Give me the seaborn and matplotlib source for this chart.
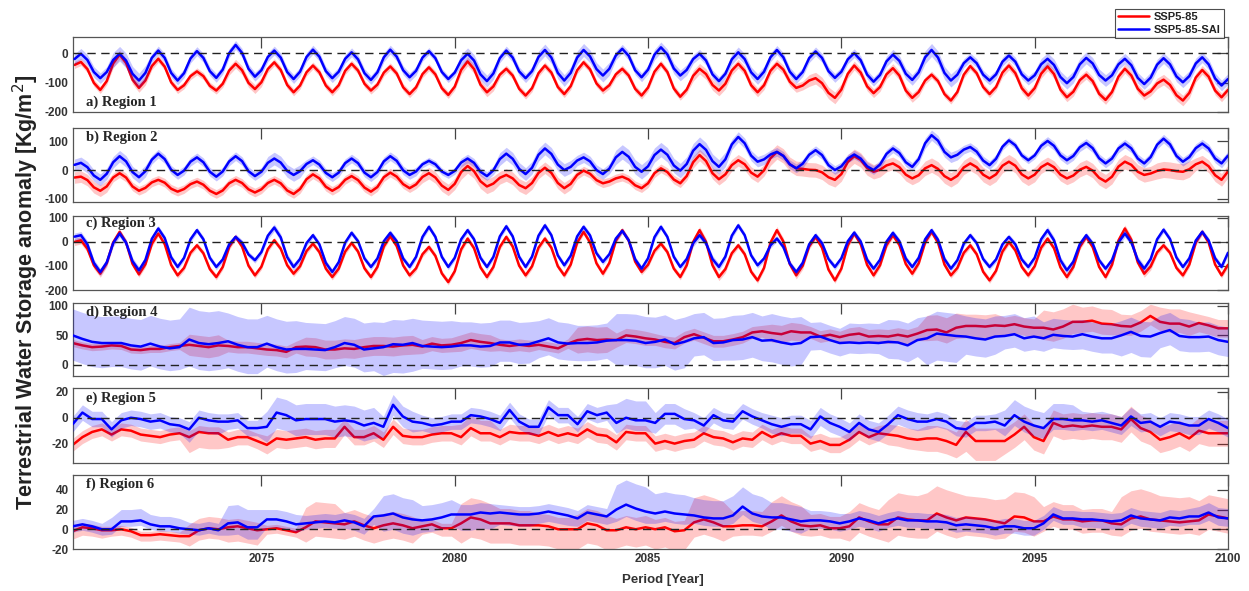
import numpy as np
import pandas as pd
import seaborn as sns
import matplotlib
matplotlib.use("Agg")
import matplotlib.pyplot as plt
from matplotlib.lines import Line2D

# ---- data ----
# regions 1-3: 6 samples per year (seasonal cycle), regions 4-6: 4 samples per year
# spreads (band half widths) are one value per year

r1_ssp = [-40, -30, -54, -101, -125, -95,  -35, -5, -33, -90, -118, -93,  -44, -19, -46, -99, -125, -109,
          -78, -62, -78, -111, -127, -104,  -59, -36, -58, -101, -122, -99,  -54, -31, -57, -108, -133, -110,
          -65, -42, -65, -110, -133, -109,  -60, -36, -59, -104, -127, -107,  -66, -45, -69, -116, -139, -116,
          -71, -48, -72, -119, -142, -114,  -57, -28, -54, -107, -133, -113,  -73, -53, -76, -121, -144, -119,
          -68, -42, -66, -115, -139, -112,  -58, -31, -55, -103, -127, -109,  -72, -53, -76, -121, -144, -117,
          -63, -36, -64, -120, -148, -124,  -77, -53, -71, -108, -127, -104,  -59, -36, -60, -109, -133, -109,
          -60, -36, -56, -97, -118, -110,  -93, -85, -102, -135, -152, -124,  -70, -42, -66, -113, -136, -115,
          -72, -51, -76, -127, -152, -132,  -93, -73, -95, -139, -161, -132,  -73, -44, -68, -115, -139, -115,
          -66, -42, -68, -119, -144, -119,  -70, -45, -71, -124, -150, -131,  -92, -73, -95, -138, -159, -132,
          -80, -53, -76, -121, -144, -130,  -103, -90, -108, -143, -161, -135,  -83, -57, -80, -127, -150, -125]
r1_sai = [-20, -2, -23, -64, -85, -64,  -23, -2, -25, -70, -93, -67,  -16, 9, -16, -67, -93, -68,
          -18, 7, -16, -61, -84, -56,  0, 28, 1, -53, -80, -58,  -13, 9, -15, -64, -88, -63,
          -13, 12, -12, -61, -85, -63,  -19, 3, -21, -68, -91, -65,  -14, 12, -12, -58, -82, -60,
          -15, 7, -17, -64, -88, -66,  -24, -2, -25, -72, -95, -69,  -17, 9, -15, -62, -85, -61,
          -13, 11, -15, -67, -93, -67,  -15, 11, -11, -54, -76, -53,  -8, 15, -9, -58, -82, -56,
          -5, 20, -4, -52, -76, -57,  -20, -2, -25, -72, -95, -70,  -21, 3, -20, -65, -88, -63,
          -14, 11, -14, -63, -88, -64,  -17, 6, -16, -61, -84, -63,  -21, 0, -24, -73, -97, -74,
          -28, -5, -26, -70, -91, -65,  -14, 11, -15, -67, -93, -73,  -34, -14, -34, -73, -93, -72,
          -29, -8, -29, -72, -93, -75,  -38, -19, -40, -81, -102, -81,  -38, -16, -35, -74, -93, -75,
          -38, -19, -41, -84, -105, -83,  -39, -17, -38, -79, -99, -78,  -35, -14, -38, -86, -110, -88]
r1_ssp_sd = [12, 15, 12, 12, 15, 12, 12, 12, 12, 12, 15, 12, 12, 12, 12,
             12, 18, 15, 15, 20, 15, 15, 12, 12, 15, 15, 15, 15, 18, 15]
r1_sai_sd = [18, 25, 15, 15, 15, 15, 15, 15, 15, 12, 20, 15, 20, 22, 15,
             18, 15, 18, 15, 15, 15, 18, 22, 15, 15, 20, 20, 18, 18, 18]

r2_ssp = [-26, -23, -35, -60, -72, -57,  -26, -11, -26, -57, -72, -62,  -43, -34, -44, -65, -75, -66,
          -49, -40, -51, -72, -83, -71,  -46, -34, -45, -67, -78, -67,  -45, -34, -46, -71, -83, -66,
          -32, -15, -29, -58, -72, -59,  -34, -21, -35, -61, -75, -59,  -25, -9, -23, -49, -63, -50,
          -24, -11, -26, -54, -69, -48,  -7, 14, -4, -39, -57, -47,  -27, -17, -29, -52, -63, -45,
          -10, 8, -10, -45, -63, -48,  -17, -2, -13, -35, -46, -40,  -29, -23, -33, -53, -63, -46,
          -11, 6, -7, -33, -46, -21,  27, 52, 31, -11, -32, -15,  17, 34, 20, -9, -23, -1,
          41, 63, 49, 20, 6, 4,  1, 0, -8, -25, -34, -14,  28, 48, 35, 7, -6, 1,
          16, 23, 10, -16, -29, -18,  6, 17, 4, -21, -34, -20,  9, 23, 10, -16, -29, -15,
          15, 29, 15, -15, -29, -16,  10, 23, 10, -16, -29, -19,  1, 11, -2, -27, -40, -23,
          12, 29, 18, -6, -17, -12,  -3, 2, 0, -4, -6, 3,  20, 29, 13, -18, -34, -5]
r2_sai = [18, 25, 10, -19, -34, -13,  27, 48, 30, -7, -25, -4,  36, 57, 38, 1, -17, -2,
          29, 44, 27, -6, -23, -5,  30, 48, 31, -4, -21, -6,  25, 40, 26, -3, -17, -4,
          21, 34, 19, -10, -25, -9,  24, 40, 24, -9, -25, -7,  30, 48, 32, -1, -17, -5,
          20, 32, 20, -5, -17, -3,  26, 40, 25, -6, -21, -1,  38, 57, 39, 4, -14, 8,
          53, 75, 56, 19, 0, 11,  33, 44, 30, 0, -14, 5,  44, 63, 46, 11, -6, 13,
          52, 71, 53, 16, -2, 21,  67, 90, 70, 31, 11, 37,  89, 115, 93, 50, 29, 37,
          54, 63, 49, 20, 6, 22,  53, 69, 52, 17, 0, 13,  40, 54, 40, 13, 0, 19,
          56, 75, 59, 27, 11, 38,  93, 121, 102, 63, 44, 53,  71, 80, 64, 33, 17, 39,
          81, 103, 86, 51, 34, 51,  84, 101, 84, 51, 34, 49,  79, 94, 76, 41, 23, 40,
          75, 92, 75, 40, 23, 45,  88, 109, 89, 49, 29, 45,  76, 92, 75, 40, 23, 50]
r2_ssp_sd = [20, 15, 15, 15, 15, 15, 15, 15, 15, 20, 25, 22, 20, 15, 15,
             15, 20, 20, 25, 25, 25, 22, 25, 25, 25, 22, 25, 25, 28, 22]
r2_sai_sd = [20, 20, 15, 15, 15, 22, 15, 15, 15, 12, 15, 22, 22, 18, 25,
             25, 25, 18, 15, 15, 15, 15, 18, 15, 12, 15, 15, 15, 15, 15]

r3_ssp = [0, 7, -28, -97, -132, -89,  -2, 42, -2, -91, -135, -93,  -8, 35, -9, -96, -139, -108,
          -45, -14, -47, -113, -146, -104,  -21, 21, -19, -99, -139, -103,  -30, 7, -28, -97, -132, -101,
          -38, -7, -42, -111, -146, -111,  -40, -4, -40, -110, -146, -104,  -19, 24, -17, -98, -139, -110,
          -51, -21, -58, -131, -167, -122,  -31, 14, -26, -106, -146, -104,  -21, 21, -19, -99, -139, -101,
          -24, 14, -24, -101, -139, -94,  -3, 42, -2, -89, -132, -87,  4, 49, 6, -82, -125, -95,
          -37, -7, -42, -111, -146, -97,  0, 49, 0, -97, -146, -113,  -47, -14, -51, -124, -160, -108,
          -3, 49, 2, -92, -139, -99,  -19, 21, -24, -115, -160, -111,  -14, 35, -9, -96, -139, -97,
          -14, 28, -12, -92, -132, -89,  -2, 42, -3, -94, -139, -108,  -45, -14, -51, -124, -160, -120,
          -40, 0, -35, -104, -139, -101,  -24, 14, -26, -106, -146, -104,  -21, 21, -21, -104, -146, -95,
          6, 56, 9, -85, -132, -102,  -43, -14, -45, -108, -139, -94,  -3, 42, -3, -94, -139, -95]
r3_sai = [22, 28, -10, -87, -125, -85,  -5, 35, -3, -80, -118, -75,  13, 56, 16, -64, -104, -66,
          11, 49, 11, -66, -104, -73,  -10, 21, -3, -52, -76, -42,  26, 60, 19, -63, -104, -71,
          -5, 28, -10, -87, -125, -84,  -3, 38, 3, -69, -104, -69,  3, 38, 3, -69, -104, -62,
          21, 63, 21, -62, -104, -66,  11, 49, 11, -66, -104, -62,  23, 65, 23, -62, -104, -61,
          26, 69, 28, -56, -97, -57,  23, 63, 27, -47, -83, -51,  14, 46, 7, -72, -111, -68,
          20, 63, 21, -62, -104, -71,  -5, 28, -5, -71, -104, -61,  26, 69, 28, -56, -97, -69,
          -14, 14, -21, -90, -125, -87,  -10, 28, -5, -71, -104, -68,  3, 39, 2, -74, -111, -74,
          1, 38, 3, -69, -104, -66,  11, 49, 9, -71, -111, -76,  -7, 28, -5, -71, -104, -73,
          -10, 21, -10, -73, -104, -66,  11, 49, 7, -76, -118, -82,  -9, 28, -7, -76, -111, -75,
          -2, 35, -2, -75, -111, -71,  11, 51, 12, -65, -104, -68,  6, 42, 6, -68, -104, -45]
r3_ssp_sd = [15, 12, 12, 12, 12, 12, 12, 12, 12, 12, 12, 12, 12, 12, 12,
             12, 15, 12, 15, 12, 12, 12, 12, 12, 12, 12, 12, 15, 12, 12]
r3_sai_sd = [15, 15, 12, 12, 12, 15, 12, 12, 12, 12, 12, 12, 12, 12, 12,
             12, 15, 12, 12, 12, 12, 12, 12, 12, 12, 15, 12, 15, 12, 12]

r4_ssp = [37, 33, 30, 31,  33, 32, 26, 25,  27, 27, 30, 32,  34, 32, 30, 33,  32, 30, 30, 28,
          26, 25, 22, 30,  31, 30, 26, 26,  28, 27, 30, 32,  32, 31, 33, 34,  31, 36, 33, 34,
          37, 42, 39, 37,  34, 32, 34, 32,  34, 31, 28, 36,  42, 44, 42, 43,  42, 50, 48, 45,
          43, 39, 37, 47,  52, 46, 40, 40,  43, 47, 55, 57,  54, 52, 57, 55,  55, 48, 51, 47,
          51, 53, 48, 49,  48, 51, 48, 53,  59, 60, 55, 63,  66, 66, 65, 67,  66, 69, 65, 63,
          63, 60, 65, 73,  73, 75, 70, 69,  66, 65, 72, 83,  73, 70, 70, 65,  71, 67, 62, 62]
r4_sai = [50, 44, 39, 37,  37, 37, 33, 31,  36, 31, 28, 30,  43, 37, 35, 37,  40, 34, 30, 30,
          36, 30, 26, 27,  27, 26, 25, 30,  37, 34, 26, 28,  30, 35, 34, 37,  32, 31, 30, 31,
          33, 33, 31, 32,  38, 38, 34, 35,  40, 45, 38, 36,  37, 37, 38, 41,  42, 42, 41, 37,
          39, 43, 35, 39,  45, 47, 37, 38,  42, 43, 47, 41,  42, 38, 35, 37,  47, 48, 42, 37,
          38, 37, 38, 37,  39, 38, 33, 42,  45, 53, 51, 49,  48, 45, 43, 48,  49, 52, 45, 48,
          45, 51, 49, 48,  52, 48, 45, 45,  50, 56, 49, 48,  54, 59, 49, 47,  47, 48, 42, 39]
r4_ssp_lo = [6, 6, 6, 18, 10, 10, 16, 16, 16, 12, 14, 10, 8, 22, 12,
             10, 10, 10, 15, 10, 12, 12, 18, 20, 15, 20, 18, 15, 15, 15]
r4_ssp_hi = [6, 6, 6, 18, 10, 10, 16, 16, 16, 12, 14, 10, 8, 22, 12,
             10, 10, 10, 15, 10, 12, 12, 25, 20, 15, 30, 25, 20, 25, 15]
r4_sai_lo = [42, 40, 38, 45, 45, 40, 35, 38, 48, 38, 35, 32, 28, 30, 42,
             44, 30, 34, 37, 22, 18, 28, 45, 30, 22, 22, 25, 35, 25, 25]
r4_sai_hi = [45, 46, 48, 55, 48, 48, 45, 45, 42, 44, 40, 38, 35, 30, 45,
             42, 42, 42, 45, 25, 33, 38, 38, 35, 35, 28, 25, 25, 30, 25]

r5_ssp = [-21, -15, -11, -9,  -13, -9, -10, -13,  -14, -15, -13, -12,  -15, -11, -12, -12,  -17, -15, -15, -18,
          -21, -16, -17, -16,  -15, -17, -16, -16,  -7, -15, -15, -12,  -17, -7, -14, -15,  -15, -13, -12, -12,
          -15, -8, -12, -12,  -15, -11, -12, -12,  -14, -11, -14, -12,  -14, -9, -13, -14,  -19, -11, -12, -12,
          -20, -18, -20, -18,  -17, -12, -15, -16,  -19, -16, -17, -11,  -15, -12, -14, -14,  -20, -18, -21, -21,
          -17, -11, -15, -12,  -13, -14, -16, -17,  -16, -16, -18, -21,  -11, -18, -18, -18,  -18, -13, -7, -15,
          -18, -4, -7, -6,  -7, -6, -7, -7,  -9, -1, -8, -11,  -17, -15, -12, -16,  -10, -12, -12, -12]
r5_sai = [-5, 4, -1, -1,  -9, -2, 0, -1,  -3, -2, -5, -6,  -9, 0, -2, -3,  -3, -2, -8, -8,
          -7, 4, 2, -2,  -1, -1, -1, -3,  -2, -3, -6, -4,  -7, 10, 1, -3,  -4, -6, -5, -3,
          -3, 2, 1, -1,  -4, 6, -3, -7,  -7, 8, 2, 2,  -5, 5, 2, 4,  -4, 0, -2, -2,
          -4, 3, 3, -1,  -2, -6, 2, -2,  -3, 5, 1, -2,  -5, -7, -5, -5,  -9, 1, -4, -7,
          -11, -4, -9, -11,  -5, 2, -1, -3,  -3, -1, -3, -8,  -9, -4, -4, -3,  -6, 2, -3, -6,
          -8, -1, -1, -2,  -2, -3, -2, -4,  -6, 1, -4, -3,  -7, -3, -4, -6,  -6, -1, -4, -8]
r5_ssp_lo = [5, 5, 5, 12, 6, 7, 7, 6, 6, 6, 6, 6, 6, 6, 6,
             6, 6, 6, 6, 6, 6, 8, 10, 15, 10, 10, 10, 10, 10, 10]
r5_ssp_hi = [5, 5, 5, 5, 6, 7, 7, 6, 6, 6, 10, 6, 6, 6, 6,
             6, 6, 6, 6, 6, 6, 8, 10, 10, 10, 10, 10, 10, 10, 10]
r5_sai_lo = [6, 6, 6, 10, 6, 12, 12, 12, 8, 6, 6, 6, 6, 6, 8,
             8, 6, 6, 7, 7, 7, 7, 6, 6, 8, 8, 7, 7, 7, 7]
r5_sai_hi = [6, 6, 6, 6, 6, 12, 12, 12, 8, 6, 6, 6, 6, 6, 15,
             8, 6, 6, 7, 7, 7, 7, 6, 6, 12, 12, 7, 7, 7, 7]

r6_ssp = [-2, 2, 1, -1,  -1, 0, -2, -6,  -6, -5, -6, -7,  -7, -1, 1, 0,  2, 3, 1, -1,
          0, 1, -1, -3,  2, 8, 7, 6,  5, 8, 4, 1,  4, 6, 4, 1,  3, 5, 1, 1,
          6, 12, 10, 6,  6, 6, 4, 4,  4, 3, 0, 0,  0, 6, 4, -1,  -1, 2, 0, 2,
          0, 2, -2, -1,  7, 10, 7, 3,  3, 4, 4, 3,  8, 14, 8, 4,  3, 4, 1, 1,
          3, 12, 8, 5,  5, 12, 10, 9,  9, 16, 12, 9,  12, 11, 10, 8,  6, 13, 12, 8,
          8, 13, 10, 10,  8, 9, 9, 6,  5, 11, 13, 10,  9, 8, 7, 8,  9, 15, 13, 11]
r6_sai = [3, 5, 3, 0,  0, 8, 8, 9,  5, 3, 3, 1,  0, -1, 1, -1,  6, 7, 2, 2,
          10, 10, 8, 5,  6, 7, 8, 7,  9, 7, 3, 13,  14, 16, 12, 10,  9, 10, 12, 15,
          15, 15, 17, 16,  17, 16, 15, 15,  16, 18, 16, 14,  11, 17, 15, 13,  20, 25, 21, 18,
          16, 18, 16, 15,  14, 12, 11, 11,  14, 23, 16, 13,  12, 12, 10, 8,  9, 9, 8, 6,
          8, 11, 9, 6,  9, 11, 9, 9,  8, 8, 7, 4,  5, 4, 3, 1,  3, 3, 1, 1,
          6, 15, 11, 11,  10, 10, 9, 8,  9, 14, 11, 10,  9, 12, 11, 13,  13, 17, 12, 11]
r6_ssp_lo = [8, 6, 6, 10, 15, 5, 15, 15, 15, 8, 20, 20, 20, 20, 18,
             20, 15, 10, 10, 10, 15, 18, 18, 18, 15, 10, 12, 12, 12, 15]
r6_ssp_hi = [4, 4, 4, 12, 8, 4, 20, 12, 12, 5, 20, 15, 12, 15, 12,
             10, 25, 15, 20, 12, 15, 25, 28, 22, 25, 15, 12, 28, 25, 20]
r6_sai_lo = [6, 5, 5, 5, 12, 8, 6, 8, 16, 12, 16, 12, 10, 8, 12,
             10, 8, 8, 12, 8, 8, 7, 7, 7, 7, 6, 8, 8, 8, 8]
r6_sai_hi = [6, 12, 10, 7, 18, 10, 8, 8, 20, 15, 10, 8, 8, 8, 25,
             20, 18, 20, 15, 10, 8, 8, 8, 8, 8, 8, 8, 8, 8, 10]

labels = ["a) Region 1", "b) Region 2", "c) Region 3", "d) Region 4", "e) Region 5", "f) Region 6"]
scen = ["SSP5-85", "SSP5-85-SAI"]

t6 = 2070 + np.arange(1, 181) / 6
t4 = np.linspace(2070.12, 2100, 120)

panels = [
    (t6, 6, r1_ssp, r1_sai, r1_ssp_sd, r1_ssp_sd, r1_sai_sd, r1_sai_sd, (-200, 55), [-200, -100, 0], 0.13),
    (t6, 6, r2_ssp, r2_sai, r2_ssp_sd, r2_ssp_sd, r2_sai_sd, r2_sai_sd, (-111, 146), [-100, 0, 100], 0.88),
    (t6, 6, r3_ssp, r3_sai, r3_ssp_sd, r3_ssp_sd, r3_sai_sd, r3_sai_sd, (-200, 108), [-200, -100, 0, 100], 0.905),
    (t4, 4, r4_ssp, r4_sai, r4_ssp_lo, r4_ssp_hi, r4_sai_lo, r4_sai_hi, (-19, 105), [0, 50, 100], 0.877),
    (t4, 4, r5_ssp, r5_sai, r5_ssp_lo, r5_ssp_hi, r5_sai_lo, r5_sai_hi, (-35, 23), [-20, 0, 20], 0.867),
    (t4, 4, r6_ssp, r6_sai, r6_ssp_lo, r6_ssp_hi, r6_sai_lo, r6_sai_hi, (-20, 55), [-20, 0, 20, 40], 0.878),
]

# panel boxes in pixels (top, bottom) of the 1249x591 figure
boxes = [(37, 112), (128, 202), (216, 290), (303, 376), (388, 463), (475, 549)]

sns.set_style("white")
plt.rcParams['font.family'] = ['Liberation Sans', 'DejaVu Sans']
plt.rcParams['axes.unicode_minus'] = False

fig = plt.figure(figsize=(12.49, 5.91), dpi=100)
W, H = 1249, 591
x0, x1 = 72.7, 1228

for i, (t, n, ssp, sai, slo, shi, blo, bhi, ylim, yt, ly) in enumerate(panels):
    top, bot = boxes[i]
    ax = fig.add_axes([x0 / W, 1 - bot / H, (x1 - x0) / W, (bot - top) / H])

    df = pd.DataFrame({'year': np.concatenate([t, t]),
                       'value': np.concatenate([ssp, sai]),
                       'scenario': [scen[0]] * len(t) + [scen[1]] * len(t)})

    ssp = np.array(ssp, float)
    sai = np.array(sai, float)
    ax.fill_between(t, ssp - np.repeat(slo, n), ssp + np.repeat(shi, n),
                    color='#ff0000', alpha=0.22, lw=0, zorder=1)
    sns.lineplot(data=df[df.scenario == scen[0]], x='year', y='value', color='#ff0000',
                 lw=1.8, ax=ax, zorder=2, legend=False, solid_joinstyle='round')
    ax.fill_between(t, sai - np.repeat(blo, n), sai + np.repeat(bhi, n),
                    color='#0000ff', alpha=0.22, lw=0, zorder=3)
    sns.lineplot(data=df[df.scenario == scen[1]], x='year', y='value', color='#0000ff',
                 lw=1.8, ax=ax, zorder=4, legend=False, solid_joinstyle='round')
    ax.axhline(0, color='#222222', ls=(0, (6, 4)), lw=1, zorder=5)

    ax.set_xlim(2070.12, 2100)
    ax.set_ylim(*ylim)
    ax.set_yticks(yt)
    ax.set_xticks([2075, 2080, 2085, 2090, 2095, 2100])
    ax.set_xlabel("")
    ax.set_ylabel("")
    ax.tick_params(direction='in', length=8, width=0.9, color='#444444',
                   top=True, right=True, labelsize=8.5, labelcolor='#333333', pad=3)
    for lab in ax.get_yticklabels() + ax.get_xticklabels():
        lab.set_fontweight('bold')
    if i < 5:
        ax.set_xticklabels([])
    for sp in ax.spines.values():
        sp.set_color('#555555')
        sp.set_linewidth(0.9)
    ax.text(0.0115, ly, labels[i], transform=ax.transAxes, va='center', ha='left',
            fontsize=10.5, fontweight='bold', family=['Liberation Serif', 'DejaVu Serif'], zorder=6)

fig.text(0.5305, 1 - 580 / H, "Period [Year]", ha='center', va='center',
         fontsize=9.5, fontweight='bold', color='#333333')
fig.text(0.021, 0.506, "Terrestrial Water Storage anomaly [Kg/m$^2$]", rotation=90,
         ha='center', va='center', fontsize=15.5, fontweight='bold', color='#222222')

handles = [Line2D([], [], color='#ff0000', lw=1.8, label=scen[0]),
           Line2D([], [], color='#0000ff', lw=1.8, label=scen[1])]
leg = fig.legend(handles=handles, loc='upper right', bbox_to_anchor=(1224 / W, 1 - 9 / H),
                 fontsize=8, frameon=True, fancybox=False, borderpad=0.3, handlelength=2.8,
                 handletextpad=0.4, labelspacing=0.2, borderaxespad=0)
leg.get_frame().set_edgecolor('#222222')
leg.get_frame().set_linewidth(0.8)
for txt in leg.get_texts():
    txt.set_fontweight('bold')
    txt.set_color('#222222')

fig.savefig('out.png', dpi=100)
